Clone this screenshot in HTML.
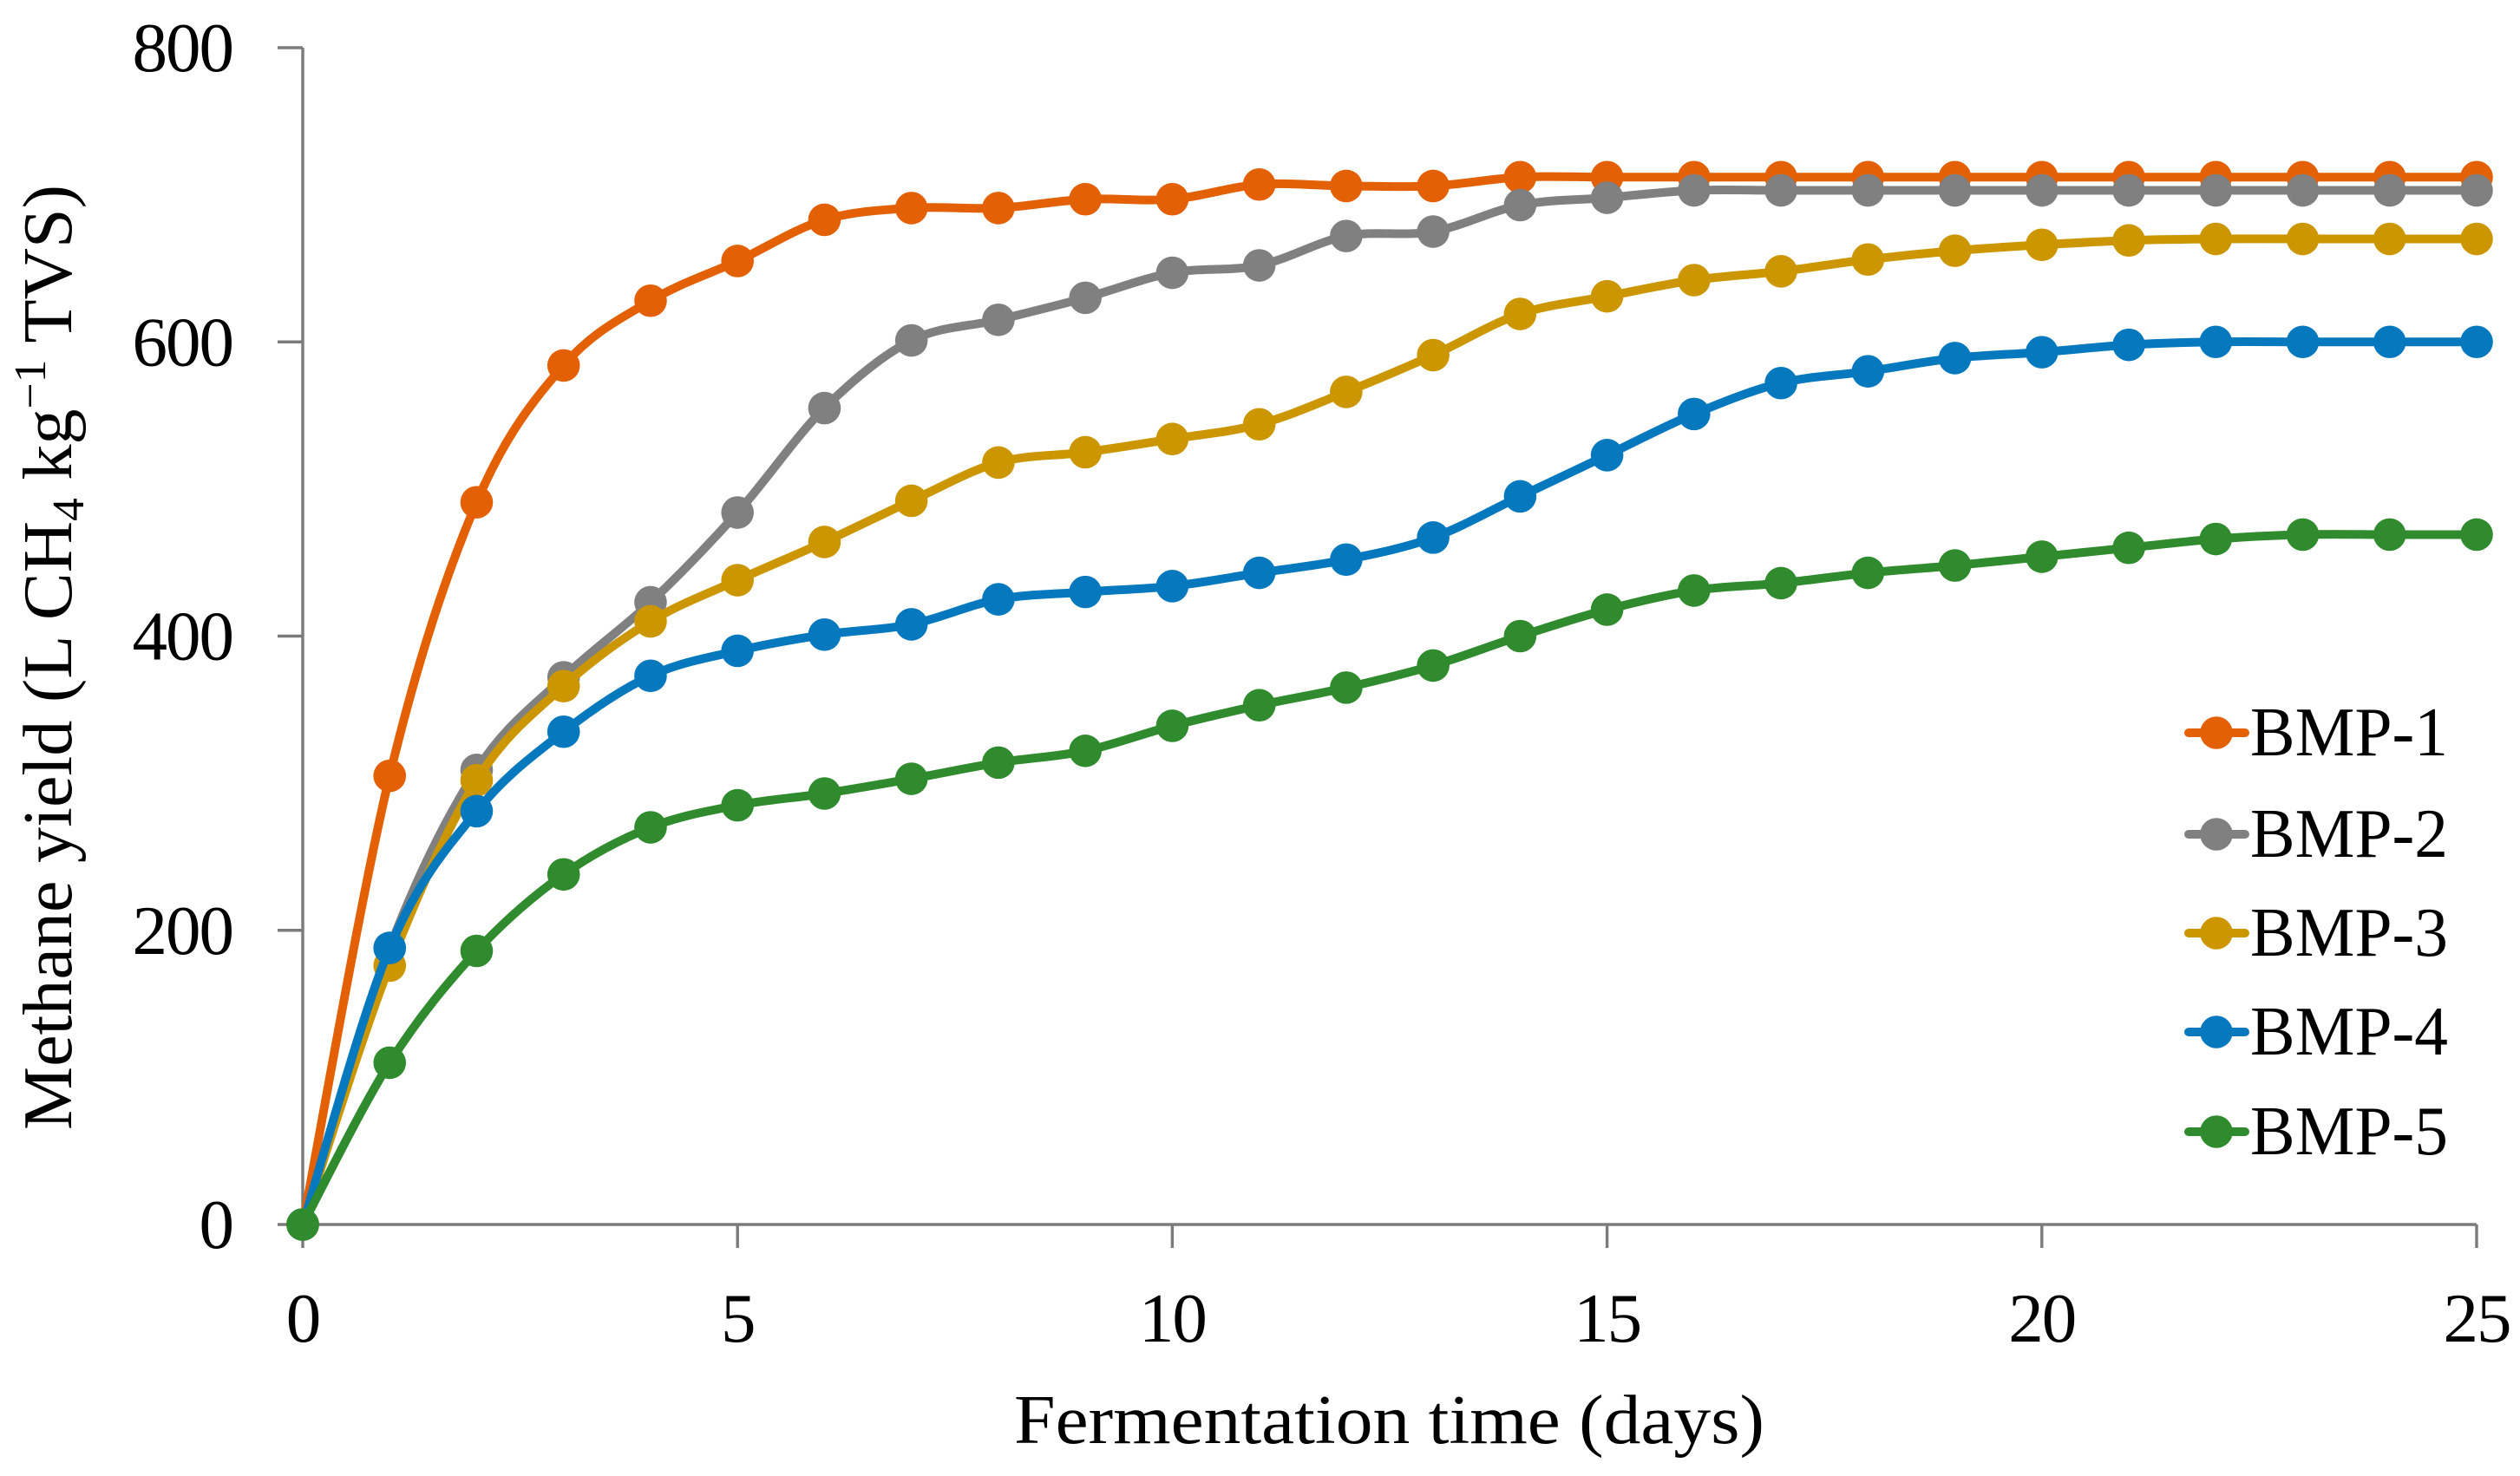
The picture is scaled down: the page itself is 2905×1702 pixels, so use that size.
<!DOCTYPE html>
<html lang="en">
<head>
<meta charset="utf-8">
<title>Methane yield chart</title>
<style>
html,body{margin:0;padding:0;background:#fff;width:2905px;height:1702px;overflow:hidden}
svg{display:block}
text{font-family:"Liberation Serif",serif;fill:#000}
</style>
</head>
<body>
<svg id="chart" xmlns="http://www.w3.org/2000/svg" width="2905" height="1702" viewBox="0 0 2905 1702">
<g id="axes"></g>
<g id="series"></g>
<text transform="translate(82,1303) rotate(-90)" font-size="80" textLength="1090" lengthAdjust="spacingAndGlyphs">Methane yield (L CH<tspan dy="14" font-size="52">4</tspan><tspan dy="-14"> kg</tspan><tspan dy="-30" font-size="52">−1</tspan><tspan dy="30"> TVS)</tspan></text>
<text x="1169" y="1664" font-size="80" textLength="865" lengthAdjust="spacingAndGlyphs">Fermentation time (days)</text>
<g id="legend"></g>
</svg>
<script>
const days = [0,1,2,3,4,5,6,7,8,9,10,11,12,13,14,15,16,17,18,19,20,21,22,23,24,25];
const bmp1 = [0,305,491,584,628,655,683,691,691,697,697,707,706,706,712,712,712,712,712,712,712,712,712,712,712,712];
const bmp2 = [0,188,309,372,423,484,555,601,615,630,647,652,672,675,693,698,703,703,703,703,703,703,703,703,703,703];
const bmp3 = [0,176,302,366,410,438,464,492,518,525,534,544,566,591,619,631,642,648,656,662,666,669,670,670,670,670];
const bmp4 = [0,188,281,335,373,390,401,408,425,430,434,443,452,467,495,523,551,572,580,589,593,598,600,600,600,600];
const bmp5 = [0,110,186,238,270,285,293,303,314,322,339,353,365,380,400,418,431,436,443,448,454,460,466,469,469,469];
const xTicks = [0,5,10,15,20,25];
const yTicks = [0,200,400,600,800];
const seriesNames = ['BMP-1','BMP-2','BMP-3','BMP-4','BMP-5'];
const seriesValues = [bmp1,bmp2,bmp3,bmp4,bmp5];
const seriesColors = ['#E36005','#808080','#CC9600','#0578BE','#2F8B2D'];

const NS = 'http://www.w3.org/2000/svg';
const X0 = 349, X1 = 2855, Y0 = 1412, Y1 = 55;
const xMax = xTicks[xTicks.length-1], yMax = yTicks[yTicks.length-1];
function sx(v){ return X0 + (v/xMax)*(X1-X0); }
function sy(v){ return Y0 - (v/yMax)*(Y0-Y1); }
function mk(tag, attrs, parent){
  const el = document.createElementNS(NS, tag);
  for (const k in attrs) el.setAttribute(k, attrs[k]);
  parent.appendChild(el);
  return el;
}
function smoothPath(pts){
  let d = 'M' + pts[0][0].toFixed(1) + ' ' + pts[0][1].toFixed(1);
  for (let i = 0; i < pts.length-1; i++){
    const p0 = pts[Math.max(i-1,0)], p1 = pts[i], p2 = pts[i+1], p3 = pts[Math.min(i+2,pts.length-1)];
    const c1x = p1[0]+(p2[0]-p0[0])/6, c1y = p1[1]+(p2[1]-p0[1])/6;
    const c2x = p2[0]-(p3[0]-p1[0])/6, c2y = p2[1]-(p3[1]-p1[1])/6;
    d += ' C' + [c1x,c1y,c2x,c2y,p2[0],p2[1]].map(n=>n.toFixed(1)).join(' ');
  }
  return d;
}

const axes = document.getElementById('axes');
const axisStyle = {stroke:'#7b7b7b','stroke-width':3.4,fill:'none'};
const yLine = mk('line', Object.assign({x1:X0,y1:Y1,x2:X0,y2:Y0}, axisStyle), axes);


const xLine = mk('line', Object.assign({x1:X0,y1:Y0,x2:X1,y2:Y0}, axisStyle), axes);



yTicks.forEach(function(t){
  const tick = mk('line', Object.assign({x1:X0-29,y1:sy(t),x2:X0,y2:sy(t)}, axisStyle), axes);
  
  
  const lab = mk('text', {x:X0-81,y:sy(t)+27,'font-size':81,'letter-spacing':-2,'text-anchor':'end'}, axes);
  
  
  lab.textContent = t;
});
xTicks.forEach(function(t){
  const tick = mk('line', Object.assign({x1:sx(t),y1:Y0,x2:sx(t),y2:Y0+27}, axisStyle), axes);
  
  
  const lab = mk('text', {x:sx(t),y:1547,'font-size':81,'letter-spacing':-2,'text-anchor':'middle'}, axes);
  
  
  lab.textContent = t;
});

const seriesG = document.getElementById('series');
seriesValues.forEach(function(vals, s){
  const g = mk('g', {fill:seriesColors[s]}, seriesG);
  
  
  const pts = vals.map(function(v,i){ return [sx(days[i]), sy(v)]; });
  const line = mk('path', {d:smoothPath(pts),fill:'none',stroke:seriesColors[s],'stroke-width':10,'stroke-linecap':'round','stroke-linejoin':'round'}, g);
  
  
  pts.forEach(function(p){
    const c = mk('circle', {cx:p[0],cy:p[1],r:18.8}, g);
    
    
  });
});

const legend = document.getElementById('legend');
const legendY = [845,962,1076,1190,1305];
seriesNames.forEach(function(name, s){
  const y = legendY[s];
  const g = mk('g', {}, legend);
  
  
  mk('line', {x1:2523,y1:y,x2:2588,y2:y,stroke:seriesColors[s],'stroke-width':10,'stroke-linecap':'round'}, g);
  mk('circle', {cx:2555,cy:y,r:18.8,fill:seriesColors[s]}, g);
  const t = mk('text', {x:2594,y:y+26,'font-size':81,textLength:228,lengthAdjust:'spacingAndGlyphs'}, g);
  
  
  t.textContent = name;
});
</script>
</body>
</html>
